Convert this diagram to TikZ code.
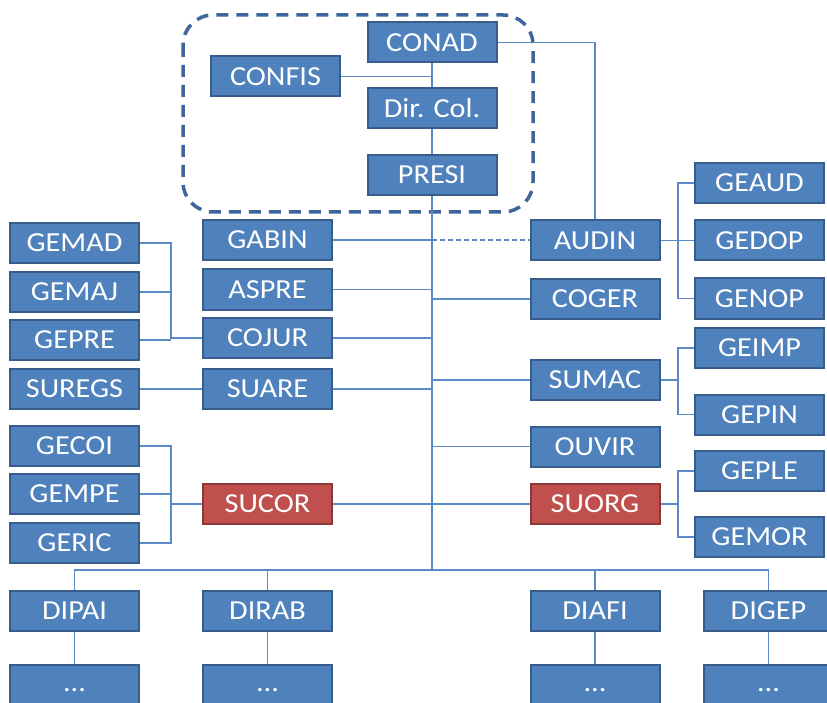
\documentclass[tikz,border=0pt]{standalone}
\usepackage{fontspec}
\setmainfont{Carlito}[FakeStretch=1.1]
\definecolor{boxblue}{HTML}{4F81BD}
\definecolor{boxedge}{HTML}{385D8A}
\definecolor{boxred}{HTML}{C0504D}
\definecolor{rededge}{HTML}{8C3836}
\definecolor{linkblue}{HTML}{5B8AC6}
\definecolor{frameblue}{HTML}{3E669C}
\begin{document}
\begin{tikzpicture}[x=1pt,y=-1pt,
  unit/.style={draw=boxedge, fill=boxblue, line width=2pt, minimum width=129pt, minimum height=40pt,
    inner sep=0pt, text=white, font=\fontsize{27.5}{30}\selectfont},
  redunit/.style={unit, draw=rededge, fill=boxred},
  dotsunit/.style={unit, text depth=0pt, text height=12pt},
  link/.style={draw=linkblue, line width=1.4pt},
  frame/.style={draw=frameblue, line width=3.5pt, dash pattern=on 12pt off 8pt, rounded corners=30pt}]
\clip (0,0) rectangle (827,703);
\fill[white] (0,0) rectangle (827,703);
% dashed group frame
\path[frame] (183,15) rectangle (533,212);
% top group
\node[unit] (CONAD) at (432,42.5) {CONAD};
\node[unit] (CONFIS) at (275.5,76.5) {CONFIS};
\node[unit] (DIRCOL) at (432,108.5) {Dir. Col.};
\node[unit] (PRESI) at (432,175) {PRESI};
% left column
\node[unit] (GEMAD) at (74.5,243) {GEMAD};
\node[unit] (GEMAJ) at (74.5,292) {GEMAJ};
\node[unit] (GEPRE) at (74.5,340) {GEPRE};
\node[unit] (SUREGS) at (74.5,389) {SUREGS};
\node[unit] (GECOI) at (74.5,446) {GECOI};
\node[unit] (GEMPE) at (74.5,494) {GEMPE};
\node[unit] (GERIC) at (74.5,543) {GERIC};
% middle-left column
\node[unit] (GABIN) at (267.5,240) {GABIN};
\node[unit] (ASPRE) at (267.5,289.5) {ASPRE};
\node[unit] (COJUR) at (267.5,338) {COJUR};
\node[unit] (SUARE) at (267.5,389) {SUARE};
\node[redunit] (SUCOR) at (267.5,504) {SUCOR};
% middle-right column
\node[unit] (AUDIN) at (595,240.5) {AUDIN};
\node[unit] (COGER) at (595,299) {COGER};
\node[unit] (SUMAC) at (595,380) {SUMAC};
\node[unit] (OUVIR) at (595,446.5) {OUVIR};
\node[redunit] (SUORG) at (595,504) {SUORG};
% right column
\node[unit] (GEAUD) at (759.5,183) {GEAUD};
\node[unit] (GEDOP) at (759.5,240.5) {GEDOP};
\node[unit] (GENOP) at (759.5,298.5) {GENOP};
\node[unit] (GEIMP) at (759.5,348) {GEIMP};
\node[unit] (GEPIN) at (759.5,414.5) {GEPIN};
\node[unit] (GEPLE) at (759.5,471) {GEPLE};
\node[unit] (GEMOR) at (759.5,537) {GEMOR};
% directorates
\node[unit] (DIPAI) at (74.5,611) {DIPAI};
\node[unit] (DIRAB) at (267.5,611) {DIRAB};
\node[unit] (DIAFI) at (595,611) {DIAFI};
\node[unit] (DIGEP) at (768.5,611) {DIGEP};
\node[dotsunit] (SUBA) at (74.5,685) {...};
\node[dotsunit] (SUBB) at (267.5,685) {...};
\node[dotsunit] (SUBC) at (595,685) {...};
\node[dotsunit] (SUBD) at (768.5,685) {...};
\coordinate (bus) at (432,570);
% connectors
\path[link] (CONAD.south) -- (DIRCOL.north);
\path[link] (DIRCOL.south) -- (PRESI.north);
\path[link] (PRESI.south) -- (bus);
\path[link] (CONFIS.east) -- (CONFIS.east -| CONAD);
\path[link] (CONAD.east) -| (AUDIN.north);
\path[link] (GABIN.east) -- (GABIN.east -| CONAD);
\path[link, dash pattern=on 5pt off 3pt] (GABIN.east -| CONAD) -- (AUDIN.west |- GABIN.east);
\path[link] (ASPRE.east) -- (ASPRE.east -| CONAD);
\path[link] (COJUR.east) -- (COJUR.east -| CONAD);
\path[link] (SUARE.east) -- (SUARE.east -| CONAD);
\path[link] (SUCOR.east) -- (SUORG.west);
\path[link] (COGER.west) -- (COGER.west -| CONAD);
\path[link] (SUMAC.west) -- (SUMAC.west -| CONAD);
\path[link] (OUVIR.west) -- (OUVIR.west -| CONAD);
% left brackets
\path[link] (GEMAD.east) -- ++(31,0) |- (COJUR.west);
\path[link] (GEMAJ.east) -- ++(31,0);
\path[link] (GEPRE.east) -- ++(31,0);
\path[link] (SUREGS.east) -- (SUARE.west);
\path[link] (GECOI.east) -- ++(31,0) |- (GERIC.east);
\path[link] (GEMPE.east) -- ++(31,0);
\path[link] (SUCOR.west) -- ++(-31,0);
% right brackets
\path[link] (GEAUD.west) -- ++(-16,0) |- (GENOP.west);
\path[link] (AUDIN.east) -- (GEDOP.west);
\path[link] (GEIMP.west) -- ++(-16,0) |- (GEPIN.west);
\path[link] (SUMAC.east) -- (SUMAC.east -| 678,0);
\path[link] (GEPLE.west) -- ++(-16,0) |- (GEMOR.west);
\path[link] (SUORG.east) -- (SUORG.east -| 678,0);
% bus to directorates
\path[link] (DIPAI.north) -- (DIPAI.north |- bus) -- (DIGEP.north |- bus) -- (DIGEP.north);
\path[link] (DIRAB.north) -- (DIRAB.north |- bus);
\path[link] (DIAFI.north) -- (DIAFI.north |- bus);
\path[link] (DIPAI.south) -- (SUBA.north);
\path[link] (DIRAB.south) -- (SUBB.north);
\path[link] (DIAFI.south) -- (SUBC.north);
\path[link] (DIGEP.south) -- (SUBD.north);
\end{tikzpicture}
\end{document}
